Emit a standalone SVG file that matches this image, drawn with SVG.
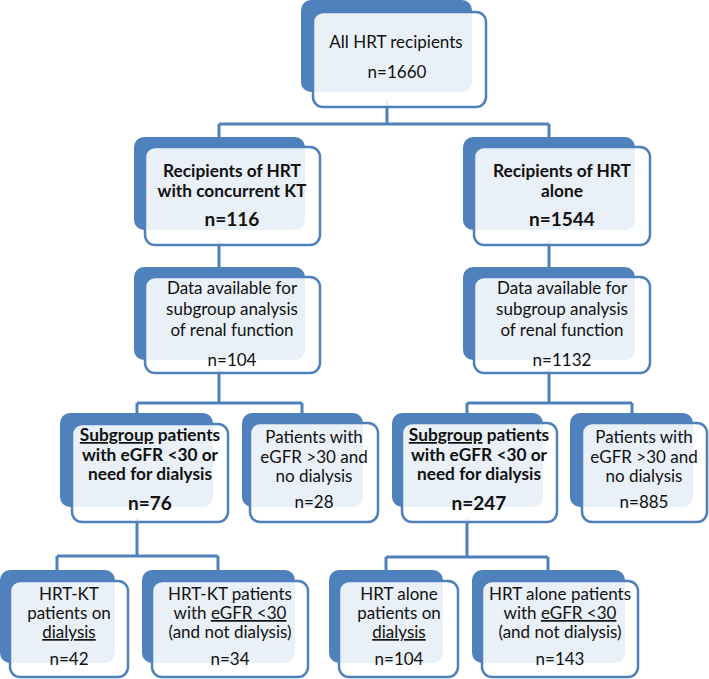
<svg xmlns="http://www.w3.org/2000/svg" width="709" height="679" viewBox="0 0 709 679">
<style>
.bk{fill:#4f81bd}
.fr{fill:#ffffff;fill-opacity:0.88;stroke:#4f81bd;stroke-width:2.5}
.cn{fill:none;stroke:#4f81bd;stroke-width:3}
text{font-family:Lato,"Liberation Sans",sans-serif;fill:#111;text-anchor:middle}
.r{font-size:17px}
.b{font-size:17.3px;font-weight:bold}
.bn{font-size:19px;font-weight:bold}
.u{text-decoration:underline}
</style>
<rect width="709" height="679" fill="#ffffff"/>
<g id="connectors">
<path class="cn" d="M387,100V124M219,124H549M219,124V140M549,124V140"/>
<path class="cn" d="M219,240V270M549,240V270"/>
<path class="cn" d="M219,368V403M137,403H302M137,403V416M302,403V416"/>
<path class="cn" d="M549,368V403M467,403H632M467,403V416M632,403V416"/>
<path class="cn" d="M137,518V556M57,556H218M57,556V573M218,556V573"/>
<path class="cn" d="M467,518V557M386,557H548M386,557V573M548,557V573"/>
</g>
<g id="n-all">
<rect class="bk" x="301" y="0" width="171" height="92" rx="10"/>
<rect class="fr" x="313" y="12" width="173" height="95" rx="10"/>
<text class="r" x="396" y="48">All HRT recipients</text>
<text class="r" x="397" y="78">n=1660</text>
</g>
<g id="n-kt">
<rect class="bk" x="134" y="137" width="171" height="93" rx="10"/>
<rect class="fr" x="145" y="147" width="175" height="98" rx="10"/>
<text class="b" x="232" y="177">Recipients of HRT</text>
<text class="b" x="232" y="197">with concurrent KT</text>
<text class="bn" x="232" y="226">n=116</text>
</g>
<g id="n-alone">
<rect class="bk" x="463" y="137" width="172" height="93" rx="10"/>
<rect class="fr" x="474" y="147" width="176" height="98" rx="10"/>
<text class="b" x="562" y="177">Recipients of HRT</text>
<text class="b" x="562" y="197">alone</text>
<text class="bn" x="562" y="226">n=1544</text>
</g>
<g id="n-data-kt">
<rect class="bk" x="134" y="267" width="171" height="93" rx="10"/>
<rect class="fr" x="145" y="277" width="175" height="96" rx="10"/>
<text class="r" x="232" y="294">Data available for</text>
<text class="r" x="232" y="315">subgroup analysis</text>
<text class="r" x="232" y="336">of renal function</text>
<text class="r" x="232" y="366">n=104</text>
</g>
<g id="n-data-alone">
<rect class="bk" x="463" y="267" width="172" height="93" rx="10"/>
<rect class="fr" x="474" y="277" width="176" height="96" rx="10"/>
<text class="r" x="562" y="294">Data available for</text>
<text class="r" x="562" y="315">subgroup analysis</text>
<text class="r" x="562" y="336">of renal function</text>
<text class="r" x="562" y="366">n=1132</text>
</g>
<g id="n-sub-kt">
<rect class="bk" x="60" y="413" width="153" height="94" rx="10"/>
<rect class="fr" x="72" y="424" width="156" height="98" rx="10"/>
<text class="b" x="150" y="441"><tspan class="u">Subgroup</tspan> patients</text>
<text class="b" x="150" y="461">with eGFR &lt;30 or</text>
<text class="b" x="150" y="480">need for dialysis</text>
<text class="bn" x="150" y="510">n=76</text>
</g>
<g id="n-other-kt">
<rect class="bk" x="242" y="413" width="121" height="94" rx="10"/>
<rect class="fr" x="250" y="423" width="128" height="99" rx="10"/>
<text class="r" x="314" y="443">Patients with</text>
<text class="r" x="314" y="463">eGFR &gt;30 and</text>
<text class="r" x="314" y="482">no dialysis</text>
<text class="r" x="314" y="508">n=28</text>
</g>
<g id="n-sub-alone">
<rect class="bk" x="392" y="413" width="151" height="94" rx="10"/>
<rect class="fr" x="402" y="423" width="155" height="99" rx="10"/>
<text class="b" x="479" y="441"><tspan class="u">Subgroup</tspan> patients</text>
<text class="b" x="479" y="461">with eGFR &lt;30 or</text>
<text class="b" x="479" y="480">need for dialysis</text>
<text class="bn" x="479" y="510">n=247</text>
</g>
<g id="n-other-alone">
<rect class="bk" x="570" y="413" width="123" height="94" rx="10"/>
<rect class="fr" x="582" y="423" width="125" height="99" rx="10"/>
<text class="r" x="644" y="443">Patients with</text>
<text class="r" x="644" y="463">eGFR &gt;30 and</text>
<text class="r" x="644" y="482">no dialysis</text>
<text class="r" x="644" y="508">n=885</text>
</g>
<g id="n-kt-dial">
<rect class="bk" x="0" y="570" width="115" height="93" rx="10"/>
<rect class="fr" x="10" y="581" width="118" height="96" rx="10"/>
<text class="r" x="69" y="600">HRT-KT</text>
<text class="r" x="69" y="619">patients on</text>
<text class="r u" x="69" y="638">dialysis</text>
<text class="r" x="69" y="665">n=42</text>
</g>
<g id="n-kt-egfr">
<rect class="bk" x="142" y="570" width="153" height="93" rx="10"/>
<rect class="fr" x="152" y="581" width="156" height="96" rx="10"/>
<text class="r" x="230" y="600">HRT-KT patients</text>
<text class="r" x="230" y="619">with  <tspan class="u">eGFR &lt;30</tspan></text>
<text class="r" x="230" y="638">(and not dialysis)</text>
<text class="r" x="230" y="665">n=34</text>
</g>
<g id="n-alone-dial">
<rect class="bk" x="329" y="570" width="114" height="93" rx="10"/>
<rect class="fr" x="339" y="581" width="119" height="96" rx="10"/>
<text class="r" x="399" y="600">HRT alone</text>
<text class="r" x="399" y="619">patients on</text>
<text class="r u" x="399" y="638">dialysis</text>
<text class="r" x="399" y="665">n=104</text>
</g>
<g id="n-alone-egfr">
<rect class="bk" x="472" y="570" width="153" height="93" rx="10"/>
<rect class="fr" x="482" y="581" width="156" height="96" rx="10"/>
<text class="r" x="560" y="600">HRT alone patients</text>
<text class="r" x="560" y="619">with  <tspan class="u">eGFR &lt;30</tspan></text>
<text class="r" x="560" y="638">(and not dialysis)</text>
<text class="r" x="560" y="665">n=143</text>
</g>
</svg>
